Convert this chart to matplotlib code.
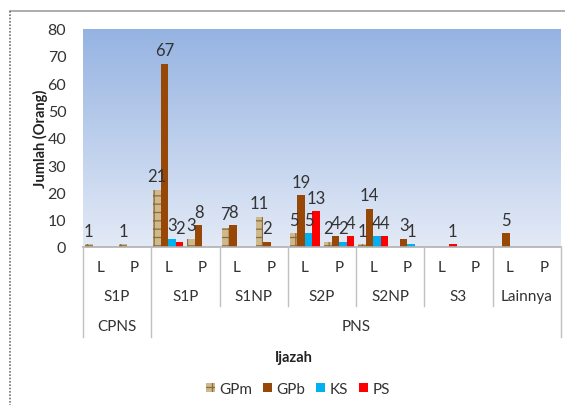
import numpy as np
import matplotlib
matplotlib.use("Agg")
import matplotlib.pyplot as plt
from matplotlib.colors import LinearSegmentedColormap
from matplotlib.lines import Line2D

plt.rcParams['font.family'] = ['Lato', 'DejaVu Sans']
plt.rcParams['hatch.linewidth'] = 0.9

nan = np.nan
sub_labels = ["L", "P"] * 7
groups = ["S1P", "S1P", "S1NP", "S2P", "S2NP", "S3", "Lainnya"]
outer = [("CPNS", 1), ("PNS", 6)]
series = ["GPm", "GPb", "KS", "PS"]
GPm = [1, 1, 21, 3, 7, 11, 5, 2, 1, nan, nan, nan, nan, nan]
GPb = [nan, nan, 67, 8, 8, 2, 19, 4, 14, 3, nan, nan, 5, nan]
KS = [nan, nan, 3, nan, nan, nan, 5, 2, 4, 1, nan, nan, nan, nan]
PS = [nan, nan, 2, nan, nan, nan, 13, 4, 4, nan, 1, nan, nan, nan]
values = [GPm, GPb, KS, PS]

colors = ["#cdb98c", "#974706", "#00b0f0", "#ff0000"]
hatches = ["++", None, None, None]
hatch_colors = ["#8c6c3c", None, None, None]

W, H = 565, 406
fig = plt.figure(figsize=(W / 100, H / 100), dpi=100)
fig.patch.set_facecolor("white")

left, right, top, bottom = 83, 561, 29.5, 248
ax = fig.add_axes([left / W, 1 - bottom / H, (right - left) / W, (bottom - top) / H])

n = len(sub_labels)
ax.set_xlim(0, n)
ax.set_ylim(0, 80)

# gradient plot-area fill
cmap = LinearSegmentedColormap.from_list("bg", ["#e3eaf6", "#95b3e2"])
grad = np.linspace(0, 1, 256).reshape(-1, 1)
ax.imshow(grad, cmap=cmap, aspect="auto", extent=[0, n, 0, 80], origin="lower", zorder=0)

x = np.arange(n) + 0.5
w = 0.22
for k, (name, vals) in enumerate(zip(series, values)):
    xs = x + (k - 1.5) * w
    v = np.array(vals, dtype=float)
    kw = dict(color=colors[k], linewidth=0, zorder=2)
    if hatches[k]:
        kw.update(hatch=hatches[k], edgecolor=hatch_colors[k])
    ax.bar(xs, np.nan_to_num(v), width=w, label=name, **kw)
    for xi, vi in zip(xs, v):
        if not np.isnan(vi):
            ax.annotate(f"{int(vi)}", (xi, vi), xytext=(0, 4), textcoords="offset points",
                        ha="center", va="bottom", fontsize=12, color="#333333", zorder=3)

for s in ["top", "right", "left"]:
    ax.spines[s].set_visible(False)
ax.spines["bottom"].set_color("#b0b0b0")
ax.spines["bottom"].set_linewidth(1.2)
ax.set_yticks(np.arange(0, 81, 10))
ax.tick_params(axis="y", length=0, pad=12, labelsize=11.5, labelcolor="#333333")
ax.set_xticks([])

# multi-level category axis
to_y = lambda py: 1 - py / H
to_x = lambda px: px / W
slot = (right - left) / n
for i, lab in enumerate(sub_labels):
    fig.text(to_x(left + (i + 0.5) * slot), to_y(268), lab, ha="center", va="center",
             fontsize=11, color="#333333")
for g, lab in enumerate(groups):
    fig.text(to_x(left + (2 * g + 1) * slot), to_y(297), lab, ha="center", va="center",
             fontsize=11, color="#333333")
pos = 0
for lab, cnt in outer:
    fig.text(to_x(left + (pos + cnt) * slot), to_y(327), lab, ha="center", va="center",
             fontsize=11, color="#333333")
    pos += 2 * cnt

sep_color = "#c0c0c0"
outer_edges = [0, 2, 14]
for b in range(0, n + 1, 2):
    px = left + b * slot
    y_end = 338 if b in outer_edges else 307
    fig.add_artist(Line2D([to_x(px)] * 2, [to_y(bottom), to_y(y_end)], color=sep_color, lw=1))

fig.text(to_x(40), to_y(139), "Jumlah (Orang)", rotation=90, ha="center", va="center",
         fontsize=10.5, fontweight="bold", color="#222222")
fig.text(to_x(294), to_y(358), "Ijazah", ha="center", va="center",
         fontsize=10.5, fontweight="bold", color="#222222")

handles, labels = ax.get_legend_handles_labels()
fig.legend(handles, labels, loc="center", bbox_to_anchor=(to_x(298), to_y(390)), ncol=4,
           frameon=False, fontsize=11, handlelength=0.6, handleheight=0.6,
           handletextpad=0.3, columnspacing=0.7, labelcolor="#333333")

# chart frame
fig.add_artist(Line2D([to_x(10), 1], [to_y(12), to_y(12)], color="#a0a0a0", lw=1.2))
fig.add_artist(Line2D([to_x(9.5), to_x(9.5)], [to_y(12), 0], color="#707070", lw=1.2,
                      linestyle=(0, (1, 1))))

fig.savefig("out.png", dpi=100)
